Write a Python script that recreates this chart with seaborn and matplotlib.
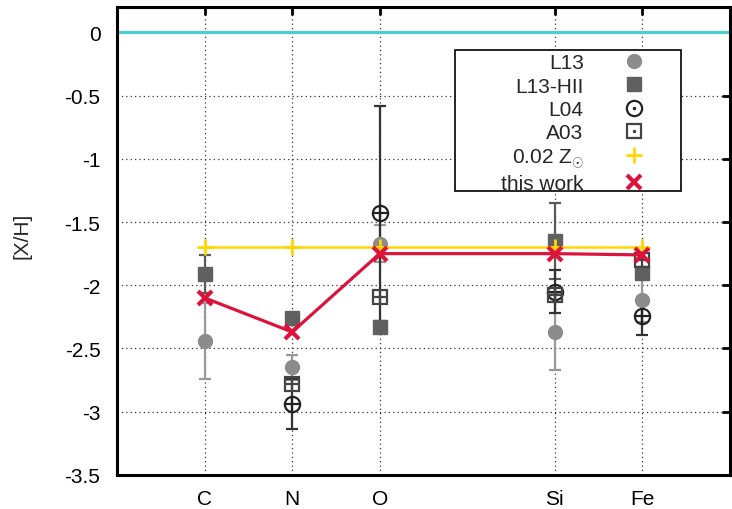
import numpy as np
import matplotlib
matplotlib.use('Agg')
import matplotlib.pyplot as plt
import seaborn as sns
from matplotlib.lines import Line2D
from matplotlib.patches import Rectangle

# abundances [X/H]
elements = ['C', 'N', 'O', 'Si', 'Fe']
x_slot = [1, 2, 3, 5, 6]

l13 = [-2.44, -2.65, -1.67, -2.37, -2.12]
l13_err = [0.30, 0.10, 0.15, 0.30, 0.17]
l13_hii = [-1.91, -2.26, -2.33, -1.65, -1.90]
l13_hii_err = [0.15, np.nan, np.nan, 0.30, np.nan]
l04 = [np.nan, -2.94, -1.43, -2.05, -2.24]
l04_err = [np.nan, 0.20, 0.85, 0.17, 0.15]
a03 = [np.nan, -2.78, -2.09, -2.08, -1.80]
z002 = [-1.70, -1.70, -1.70, -1.70, -1.70]
this_work = [-2.10, -2.37, -1.75, -1.75, -1.76]
solar = 0.0

labels = ['L13', 'L13-HII', 'L04', 'A03', r'0.02 Z$_{\odot}$', 'this work']

sns.set_style('white')
plt.rcParams['font.family'] = ['Liberation Sans', 'DejaVu Sans']
plt.rcParams['axes.unicode_minus'] = False
plt.rcParams['mathtext.fontset'] = 'custom'
plt.rcParams['mathtext.rm'] = 'Liberation Sans'

c_l13 = '#8c8c8c'
c_hii = '#606060'
c_l04 = '#222222'
c_a03 = '#444444'
c_yel = '#ffd700'
c_red = '#dc143c'
c_cyan = '#48d1cc'
fs = 15

fig, ax = plt.subplots(figsize=(7.32, 5.10), dpi=100)
fig.subplots_adjust(left=0.160, right=0.997, bottom=0.067, top=0.984)

ax.axhline(solar, color=c_cyan, lw=2.2, zorder=2)

# error bars
ax.errorbar(x_slot, l13, yerr=l13_err, fmt='none', ecolor='#999999',
            elinewidth=1.6, capsize=4, capthick=1.6, zorder=2.5)
ax.errorbar(x_slot, l13_hii, yerr=l13_hii_err, fmt='none', ecolor='#5a5a5a',
            elinewidth=1.6, capsize=4, capthick=1.6, zorder=2.6)
ax.errorbar(x_slot, l04, yerr=l04_err, fmt='none', ecolor='#333333',
            elinewidth=1.6, capsize=4, capthick=1.6, zorder=2.7)

# points
ax.plot(x_slot, l13, ls='none', marker='o', ms=10, color=c_l13, mec=c_l13, zorder=3.1)
ax.plot(x_slot, l13_hii, ls='none', marker='s', ms=10, color=c_hii, mec=c_hii, zorder=3.2)
ax.plot(x_slot, l04, ls='none', marker='o', ms=11, mfc='none', mec=c_l04, mew=1.6, zorder=3.3)
ax.plot(x_slot, l04, ls='none', marker='+', ms=11, mec=c_l04, mew=1.6, zorder=3.3)
ax.plot(x_slot, a03, ls='none', marker='s', ms=10, mfc='none', mec=c_a03, mew=1.6, zorder=3.4)
ax.plot(x_slot, a03, ls='none', marker='+', ms=10, mec=c_a03, mew=1.6, zorder=3.4)

sns.lineplot(x=x_slot, y=z002, ax=ax, color=c_yel, lw=1.8, marker='+', ms=11,
             mew=2, mec=c_yel, sort=False, estimator=None, zorder=3.5)
sns.lineplot(x=x_slot, y=this_work, ax=ax, color=c_red, lw=2.3, marker='x', ms=10,
             mew=3, mec=c_red, sort=False, estimator=None, zorder=3.6)

ax.set_xlim(0, 7)
ax.set_ylim(-3.5, 0.2)
ax.set_xticks(x_slot)
ax.set_xticklabels(elements)
yt = [0, -0.5, -1, -1.5, -2, -2.5, -3, -3.5]
ax.set_yticks(yt)
ax.set_yticklabels(['%g' % v for v in yt])
ax.tick_params(direction='in', length=6, width=2, top=True, right=True,
               labeltop=False, labelright=False, labelsize=fs, colors='black')
ax.tick_params(axis='y', pad=12)
ax.tick_params(axis='x', pad=10)
ax.grid(True, ls=(0, (1, 2.5)), color='#333333', lw=0.9)
ax.set_axisbelow(True)
for s in ax.spines.values():
    s.set_visible(True)
    s.set_linewidth(2.2)
    s.set_color('black')

ax.set_ylabel('[X/H]', fontsize=fs)
ax.yaxis.set_label_coords(-0.14, 0.513)
ax.set_xlabel('')

# legend
handles = [
    Line2D([], [], ls='none', marker='o', ms=10, color=c_l13),
    Line2D([], [], ls='none', marker='s', ms=10, color=c_hii),
    (Line2D([], [], ls='none', marker='o', ms=11, mfc='none', mec=c_l04, mew=1.6),
     Line2D([], [], ls='none', marker='.', ms=3, color=c_l04)),
    (Line2D([], [], ls='none', marker='s', ms=10, mfc='none', mec=c_a03, mew=1.6),
     Line2D([], [], ls='none', marker='.', ms=3, color=c_a03)),
    Line2D([], [], ls='none', marker='+', ms=11, mew=2, color=c_yel),
    Line2D([], [], ls='none', marker='x', ms=10, mew=3, color=c_red),
]
box = Rectangle((0.552, 0.606), 0.369, 0.303, transform=ax.transAxes,
                facecolor='white', edgecolor='black', lw=1.2, zorder=4.8)
ax.add_patch(box)
leg = ax.legend(handles, labels, loc='upper right', bbox_to_anchor=(0.858, 0.901),
                borderaxespad=0, borderpad=0, frameon=False, markerfirst=False,
                handlelength=0.87, handletextpad=1.97, labelspacing=0.2,
                fontsize=fs, numpoints=1)
leg.set_zorder(5)

fig.savefig('out.png', dpi=100)
